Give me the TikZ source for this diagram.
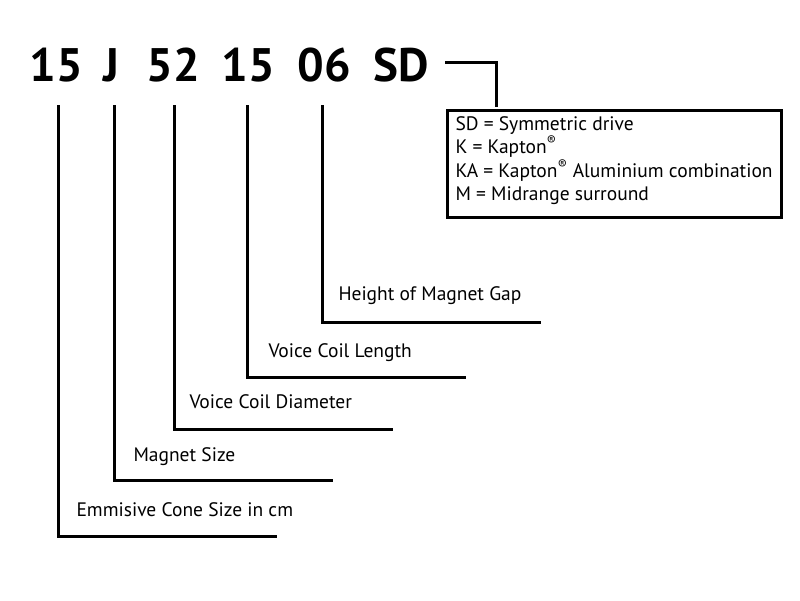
\documentclass[tikz,border=0pt]{standalone}
\usepackage{fontspec}
\setmainfont{PT Sans}
\usepackage{tikz}

\tikzset{
  code/.style={font=\bfseries\fontsize{47}{47}\selectfont, inner sep=0pt, anchor=base},
  lbl/.style={font=\fontsize{19.5}{23}\selectfont, inner sep=0pt, anchor=base west},
}

\begin{document}
\begin{tikzpicture}[x=1pt,y=-1pt,line width=3pt]
    \useasboundingbox (0,0) rectangle (800,600);

    \node[code] (C1) at (56,81) {15};
    \node[code] (C2) at (111,81) {J};
    \node[code] (C3) at (173,81) {52};
    \node[code] (C4) at (248,81) {15};
    \node[code] (C5) at (324,81) {06};
    \node[code] (C6) at (401,81) {SD};

    \coordinate (T1) at (58, 105);
    \coordinate (T2) at (114, 105);
    \coordinate (T3) at (174, 105);
    \coordinate (T4) at (247, 105);
    \coordinate (T5) at (322, 105);
    \coordinate (E1) at (277, 536);
    \coordinate (E2) at (333, 480);
    \coordinate (E3) at (393, 429);
    \coordinate (E4) at (466, 377);
    \coordinate (E5) at (541, 322);
    \coordinate (S1) at (445, 62);
    \coordinate (S2) at (496, 107);

    \draw (T1) |- (E1); % cone
    \draw (T2) |- (E2); % magnet
    \draw (T3) |- (E3); % diameter
    \draw (T4) |- (E4); % length
    \draw (T5) |- (E5); % gap
    \draw (S1) -| (S2); % drive

    \node[lbl] (L1) at (75,516) {Emmisive Cone Size in cm};
    \node[lbl] (L2) at (132,461) {Magnet Size};
    \node[lbl] (L3) at (188,408) {Voice Coil Diameter};
    \node[lbl] (L4) at (267,357) {Voice Coil Length};
    \node[lbl] (L5) at (337,300) {Height of Magnet Gap};

    \node[draw, anchor=north west, inner sep=0pt, minimum width=334pt, minimum height=107pt] (K) at (446,109) {};
    \node[lbl] (K1) at (454,130) {SD = Symmetric drive};
    \node[lbl] (K2) at (454,153.5) {K = Kapton\textsuperscript{®}};
    \node[lbl] (K3) at (454,177) {KA = Kapton\textsuperscript{®} Aluminium combination};
    \node[lbl] (K4) at (454,200.5) {M = Midrange surround};
\end{tikzpicture}
\end{document}
